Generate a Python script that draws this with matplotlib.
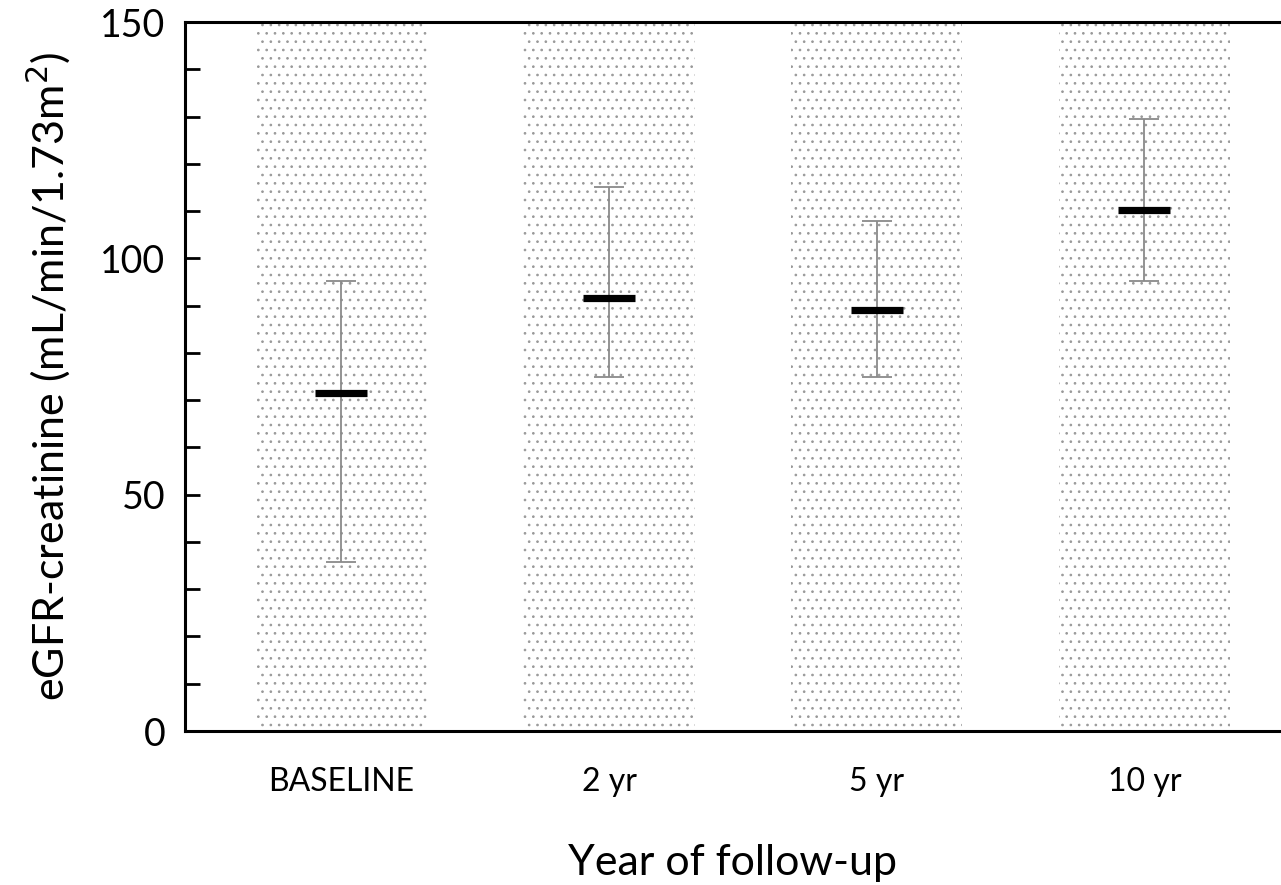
import numpy as np
import matplotlib
matplotlib.use("Agg")
import matplotlib.pyplot as plt

plt.rcParams['font.family'] = ['Lato', 'DejaVu Sans']
plt.rcParams['hatch.color'] = '#999999'
plt.rcParams['hatch.linewidth'] = 0.7

groups = ['BASELINE', '2 yr', '5 yr', '10 yr']
means = [71.5, 91.7, 89.0, 110.2]
upper = [95.3, 115.0, 108.0, 129.5]
lower = [35.8, 75.0, 74.8, 95.2]

x = np.arange(len(groups))
err = [np.array(means) - np.array(lower), np.array(upper) - np.array(means)]

fig = plt.figure(figsize=(12.81, 8.85), dpi=100)
ax = fig.add_axes([0.1444, 0.174, 0.8556, 0.8011])

# dotted background columns spanning full axis
ax.bar(x, [150] * len(x), width=0.64, facecolor='white', edgecolor='#999999',
       linewidth=0, hatch='..', zorder=1)

ax.errorbar(x, means, yerr=err, fmt='none', ecolor='#8a8a8a', elinewidth=1.3,
            capsize=11, capthick=1.3, zorder=3)
ax.scatter(x, means, marker='_', s=38**2, linewidths=5.2, color='black', zorder=4)

ax.set_xlim(-0.584, 3.51)
ax.set_ylim(0, 150)
ax.set_yticks(np.arange(0, 151, 10))
ax.set_yticklabels([str(v) if v % 50 == 0 else '' for v in range(0, 151, 10)])
ax.set_xticks(x)
ax.set_xticklabels(groups, fontsize=23)

ax.tick_params(axis='y', direction='in', length=11, width=2, labelsize=27, pad=14)
ax.tick_params(axis='x', length=0, pad=26)

for s in ['left', 'bottom', 'top']:
    ax.spines[s].set_linewidth(2.2)
ax.spines['right'].set_visible(False)

ax.set_ylabel('eGFR-creatinine (mL/min/1.73m$^2$)', fontsize=31, labelpad=20)
ax.set_xlabel('Year of follow-up', fontsize=31, labelpad=34)

fig.savefig('out.png', dpi=100)
